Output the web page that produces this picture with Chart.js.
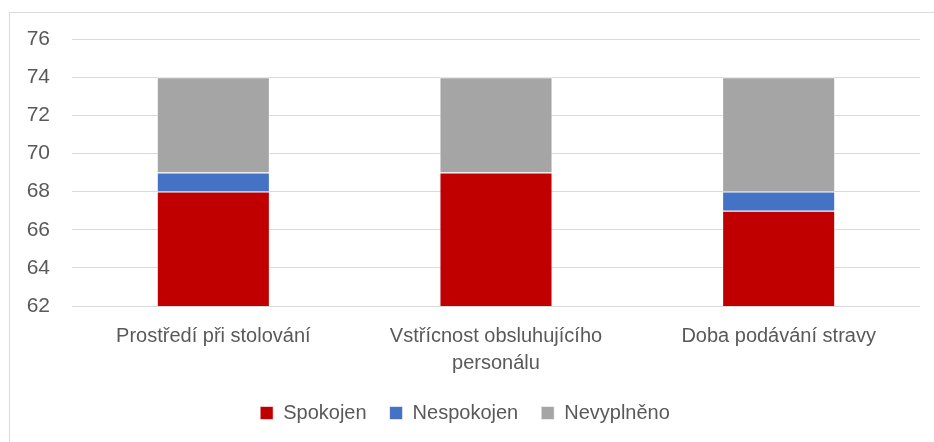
<!DOCTYPE html>
<html>
<head>
<meta charset="utf-8">
<script src="https://cdn.jsdelivr.net/npm/chart.js@4"></script>
<style>
  html, body { margin: 0; padding: 0; background: #fff; overflow: hidden; width: 934px; height: 442px; }
  #wrap { position: absolute; left: 9px; top: 12px; width: 944px; height: 450px; border: 1px solid #d9d9d9; }
  #chart { display: block; }
</style>
</head>
<body>
<div id="wrap"><canvas id="chart" width="942" height="447"></canvas></div>
<script>
/* --- Data ------------------------------------------------- */
const CATEGORIES = [
  'Prostředí při stolování',
  ['Vstřícnost obsluhujícího', 'personálu'],
  'Doba podávání stravy'
];
const SPOKOJEN   = [68, 69, 67];
const NESPOKOJEN = [1, 0, 1];
const NEVYPLNENO = [5, 5, 6];
const Y_MIN = 62, Y_MAX = 76, Y_STEP = 2;

const FONT = '"Liberation Sans", Arial, sans-serif';
const TEXT = '#595959';
const GRID = '#d9d9d9';

function ds(label, data, color) {
  return {
    label, data,
    backgroundColor: color,
    borderColor: 'rgba(255,255,255,0.6)',
    borderWidth: 1,
    categoryPercentage: 0.4,
    barPercentage: 1,
  };
}

new Chart(document.getElementById('chart'), {
  type: 'bar',
  data: {
    labels: CATEGORIES,
    datasets: [
      ds('Spokojen', SPOKOJEN, '#c00000'),
      ds('Nespokojen', NESPOKOJEN, '#4472c4'),
      ds('Nevyplněno', NEVYPLNENO, '#a5a5a5'),
    ]
  },
  options: {
    responsive: false,
    animation: false,
    layout: { padding: { top: 26, right: 32, bottom: 27, left: 0 } },
    plugins: {
      legend: {
        position: 'bottom',
        labels: { font: { family: FONT, size: 20 }, color: TEXT, boxWidth: 13, boxHeight: 13, padding: 23 }
      },
      tooltip: { enabled: false }
    },
    scales: {
      x: {
        stacked: true,
        grid: { display: false },
        border: { display: false },
        ticks: { font: { family: FONT, size: 20, lineHeight: 1.35 }, color: TEXT, padding: 9, maxRotation: 0 },
        afterFit: s => { s.height = 74; s.paddingTop = 0; s.paddingBottom = 0; }
      },
      y: {
        stacked: true,
        min: Y_MIN, max: Y_MAX,
        grid: { color: GRID, lineWidth: 1, drawTicks: false },
        border: { display: false },
        ticks: { stepSize: Y_STEP, font: { family: FONT, size: 21 }, color: TEXT, padding: 22 },
        afterFit: s => { s.width = 62; s.paddingTop = 0; s.paddingBottom = 0; }
      }
    }
  }
});
</script>
</body>
</html>
